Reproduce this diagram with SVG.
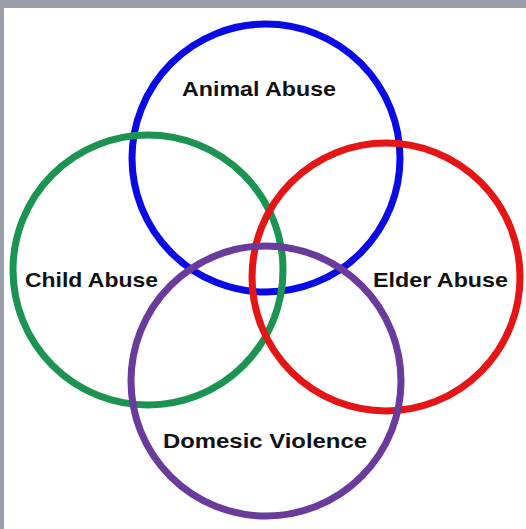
<svg xmlns="http://www.w3.org/2000/svg" width="526" height="529" viewBox="0 0 526 529">
<style>
.c{fill:none;stroke-width:7}
.t{font-family:"Liberation Sans",Arial,sans-serif;font-weight:bold;font-size:21px;fill:#111}
</style>
<rect width="526" height="529" fill="#9a9eaa"/>
<rect x="4" y="8" width="522" height="521" fill="#ffffff"/>
<g id="animal"><circle class="c" cx="266" cy="158" r="134" stroke="#0a0ae6"/></g>
<g id="child"><circle class="c" cx="148" cy="270" r="135" stroke="#1a9450"/></g>
<g id="elder"><circle class="c" cx="386" cy="277" r="134" stroke="#e51515"/></g>
<g id="domestic"><circle class="c" cx="266" cy="381" r="135" stroke="#6a3a9c"/></g>
<g id="labels">
<text class="t" x="182" y="96" textLength="154" lengthAdjust="spacingAndGlyphs">Animal Abuse</text>
<text class="t" x="25" y="287" textLength="133" lengthAdjust="spacingAndGlyphs">Child Abuse</text>
<text class="t" x="373" y="287" textLength="135" lengthAdjust="spacingAndGlyphs">Elder Abuse</text>
<text class="t" x="163" y="448" textLength="204" lengthAdjust="spacingAndGlyphs">Domesic Violence</text>
</g>
</svg>
